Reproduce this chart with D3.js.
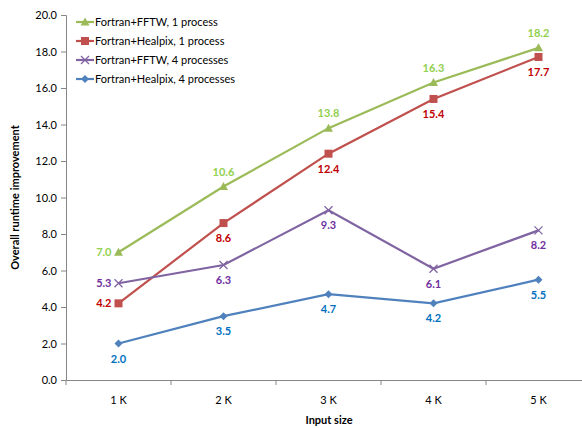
<!DOCTYPE html>
<html>
<head>
<meta charset="utf-8">
<script src="https://cdn.jsdelivr.net/npm/d3@7"></script>
<style>
body { margin: 0; background: #fff; }
text { font-family: Lato, "Open Sans", sans-serif; }
</style>
</head>
<body>
<svg width="582" height="428"></svg>
<script>
// data
var categories = ['1 K', '2 K', '3 K', '4 K', '5 K'];
var fftw1 = [7.0, 10.6, 13.8, 16.3, 18.2];
var healpix1 = [4.2, 8.6, 12.4, 15.4, 17.7];
var fftw4 = [5.3, 6.3, 9.3, 6.1, 8.2];
var healpix4 = [2.0, 3.5, 4.7, 4.2, 5.5];
var yTicks = [0, 2, 4, 6, 8, 10, 12, 14, 16, 18, 20];

var series = [
    { name: 'Fortran+FFTW, 1 process', values: fftw1, line: '#9bbb59', label: '#92d050', marker: 'triangle', pos: ['left', 'above', 'above', 'above', 'above'] },
    { name: 'Fortran+Healpix, 1 process', values: healpix1, line: '#c0504d', label: '#c00000', marker: 'square', pos: ['left', 'below', 'below', 'below', 'below'] },
    { name: 'Fortran+FFTW, 4 processes', values: fftw4, line: '#8064a2', label: '#7030a0', marker: 'x', pos: ['left', 'below', 'below', 'below', 'below'] },
    { name: 'Fortran+Healpix, 4 processes', values: healpix4, line: '#4f81bd', label: '#0070c0', marker: 'diamond', pos: ['below', 'below', 'below', 'below', 'below'] }
];

var svg = d3.select('svg');
var plotLeft = 66, plotRight = 591, plotTop = 15, plotBottom = 380;

var xScale = d3.scaleBand().domain(categories).range([plotLeft, plotRight]);
var yScale = d3.scaleLinear().domain([0, 20]).range([plotBottom, plotTop]);

// axes
var yAxis = svg.append('g')
    .attr('transform', 'translate(' + plotLeft + ',0)')
    .call(d3.axisLeft(yScale).tickValues(yTicks).tickFormat(d3.format('.1f')).tickSize(5));
var xAxis = svg.append('g')
    .attr('transform', 'translate(0,' + plotBottom + ')')
    .call(d3.axisBottom(xScale).tickSize(0).tickPadding(16));

[yAxis, xAxis].forEach(function (ax) {
    ax.select('.domain').attr('stroke', '#868686');
    ax.selectAll('.tick line').attr('stroke', '#868686');
    ax.selectAll('text').attr('font-size', '11px').attr('fill', '#000').attr('font-family', 'Lato, sans-serif');
});
yAxis.selectAll('text').attr('x', -9);

// x tick marks between categories
var bounds = categories.map(function (c) { return xScale(c); });
xAxis.selectAll('.sep').data(bounds).enter().append('line')
    .attr('x1', function (d) { return d; }).attr('x2', function (d) { return d; })
    .attr('y1', 0).attr('y2', 5)
    .attr('stroke', '#868686');

// axis titles
svg.append('text')
    .attr('x', 329).attr('y', 424)
    .attr('text-anchor', 'middle')
    .attr('font-size', '11px').attr('font-weight', 'bold')
    .text('Input size');
svg.append('text')
    .attr('transform', 'translate(19,' + ((plotTop + plotBottom) / 2) + ') rotate(-90)')
    .attr('text-anchor', 'middle')
    .attr('font-size', '11px').attr('font-weight', 'bold')
    .text('Overall runtime improvement');

function cx(i) { return xScale(categories[i]) + xScale.bandwidth() / 2; }

function drawMarker(g, type, x, y, color) {
    if (type === 'triangle') {
        g.append('path').attr('d', 'M' + x + ',' + (y - 4.5) + 'L' + (x + 4.5) + ',' + (y + 3.5) + 'L' + (x - 4.5) + ',' + (y + 3.5) + 'Z')
            .attr('fill', color);
    } else if (type === 'square') {
        g.append('rect').attr('x', x - 4).attr('y', y - 4).attr('width', 8).attr('height', 8).attr('fill', color);
    } else if (type === 'diamond') {
        g.append('path').attr('d', 'M' + x + ',' + (y - 4) + 'L' + (x + 4) + ',' + y + 'L' + x + ',' + (y + 4) + 'L' + (x - 4) + ',' + y + 'Z')
            .attr('fill', color);
    } else {
        g.append('path').attr('d', 'M' + (x - 4) + ',' + (y - 4) + 'L' + (x + 4) + ',' + (y + 4) + 'M' + (x + 4) + ',' + (y - 4) + 'L' + (x - 4) + ',' + (y + 4))
            .attr('stroke', color).attr('stroke-width', 1.3).attr('fill', 'none');
    }
}

var line = d3.line()
    .x(function (d, i) { return cx(i); })
    .y(function (d) { return yScale(d); });

series.forEach(function (s) {
    var g = svg.append('g');
    g.append('path').datum(s.values)
        .attr('d', line)
        .attr('fill', 'none')
        .attr('stroke', s.line)
        .attr('stroke-width', 2.2);
    s.values.forEach(function (v, i) {
        drawMarker(g, s.marker, cx(i), yScale(v), s.line);
        var t = g.append('text')
            .attr('font-size', '11px').attr('font-weight', 'bold')
            .attr('fill', s.label)
            .text(d3.format('.1f')(v));
        var p = s.pos[i];
        if (p === 'left') {
            t.attr('x', cx(i) - 7).attr('y', yScale(v) + 4).attr('text-anchor', 'end');
        } else if (p === 'above') {
            t.attr('x', cx(i)).attr('y', yScale(v) - 11).attr('text-anchor', 'middle');
        } else {
            t.attr('x', cx(i)).attr('y', yScale(v) + 19).attr('text-anchor', 'middle');
        }
    });
});

// legend
var legend = svg.append('g').attr('transform', 'translate(76,22)');
series.forEach(function (s, i) {
    var row = legend.append('g').attr('transform', 'translate(0,' + (i * 19) + ')');
    row.append('line').attr('x1', 0).attr('x2', 18).attr('y1', 0).attr('y2', 0)
        .attr('stroke', s.line).attr('stroke-width', 2.2);
    drawMarker(row, s.marker, 9, 0, s.line);
    row.append('text').attr('x', 19).attr('y', 4)
        .attr('font-size', '11px').attr('fill', '#000')
        .text(s.name);
});
</script>
</body>
</html>
